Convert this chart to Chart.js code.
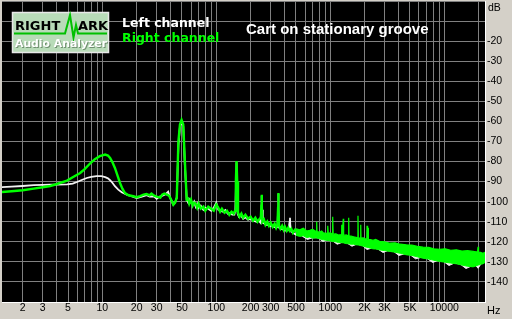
<!DOCTYPE html>
<html><head><meta charset="utf-8">
<script src="https://cdn.jsdelivr.net/npm/chart.js@4/dist/chart.umd.min.js"></script>
<style>html,body{margin:0;padding:0;background:#d4d0c8;overflow:hidden}#wrap{width:512px;height:319px;position:relative}</style>
</head><body><div id="wrap"><canvas id="c" width="512" height="319"></canvas></div>
<script>
// ---- data ----
const titleText = 'Cart on stationary groove';
const seriesNames = ['Left channel', 'Right channel'];

const leftFreq = [1.3,1.6,2.0,2.5,3.0,3.5,4.0,4.9,5.5,6.0,
6.6,7.3,8.0,8.9,9.8,10.6,11.2,11.7,12.3,12.9,
13.8,14.8,16.4,18.0,20.0,21.5,23,24.5,26,28,
29,30,31.5,33,34.5,36,37.8,39,40.6,42,
43.5,45,46.5,48,49.6,51.3,53,55,56.7,58,
60,62,64,66,68,70,73,77,80,85,
90,95,100,104,108,115,120,126,132,138,
144,147,149,150.5,152,154,158,165,172,180,
190,200,212,225,236,244,248,250,252,256,
265,275,285,298,310,320,335,345,348,350,
352,356,370,390,410,430,440,443,446,455,
470,500];
const leftDb = [-92.8,-92.5,-92.2,-91.8,-91.6,-91.5,-91.5,-91.4,-91.0,-90.2,
-89.2,-88.2,-87.7,-87.3,-87.3,-87.8,-88.4,-89.3,-90.7,-92.3,
-94.0,-95.3,-96.5,-97.3,-98.2,-97.8,-97.3,-96.8,-97.5,-97.3,
-97.8,-98.6,-97.6,-97.2,-96.8,-96.2,-95.0,-97.5,-99.8,-101.5,
-100.5,-98,-72,-62.5,-60,-62.5,-82,-99,-100.5,-99,
-100.5,-101.5,-100,-102.5,-101,-103,-102,-104,-103,-103.5,
-104.5,-103,-100.5,-104,-104.5,-105,-104.2,-106,-105.5,-106.5,
-106.5,-104,-90,-80.5,-92,-106,-107.5,-107,-108.5,-107.8,
-109,-108.5,-109.5,-110,-109.5,-110.5,-104,-97,-104,-110.5,
-111,-111.5,-111.5,-112,-112,-112.5,-113,-112.5,-104,-96,
-104,-113,-113.5,-114,-114.5,-114,-110,-108,-112,-115,
-115.5,-116.5];

const leftHfFreq = [500,560,630,700,780,860,950,1050,1150,1280,
1400,1550,1700,1900,2100,2350,2600,2900,3200,3600,
4000,4500,5000,5600,6300,7000,7900,8800,9800,11000,
12300,13800,15500,17300,18800,19800,21000,23300];
const leftHfUpper = [-114.5,-115.0,-115.2,-115.2,-116.0,-116.5,-116.8,-117.0,-117.2,-117.5,
-117.8,-118.2,-118.8,-119.0,-119.5,-120.0,-120.5,-121.0,-121.5,-122.0,
-122.3,-122.6,-123.0,-123.3,-123.8,-124.0,-124.5,-125.0,-125.0,-125.3,
-125.5,-125.8,-126.0,-126.0,-126.2,-126.0,-126.5,-126.5];
const leftHfLower = [-116.5,-117.0,-118.8,-118.0,-118.0,-119.8,-119.0,-119.6,-121.2,-120.2,
-120.6,-122.2,-121.2,-121.7,-123.8,-123.0,-123.5,-125.3,-124.4,-124.8,
-126.8,-126.0,-126.4,-128.5,-127.7,-128.1,-130.3,-129.3,-129.7,-131.8,
-130.6,-131.1,-133.3,-132.1,-131.7,-133.2,-131.0,-129.7];

const rightFreq = [1.3,1.6,2.0,2.5,3.0,3.5,4.0,4.9,5.5,6.4,
7.0,7.8,8.6,9.5,10.6,11.2,11.7,12.3,12.9,13.6,
14.3,15.0,15.8,17.0,18.7,20,21.5,23,24.5,26,
27,28.5,30,32.3,33.5,35,36.8,38.5,40.6,42,
43.5,45,46.5,48,49.6,51.3,53,55,56.7,58,
60,62,64,66,68,70,73,77,80,85,
90,95,100,104,108,112,118,124,130,136,
142,146,148.5,150.5,152.5,155,160,166,172,180,
190,200,210,220,230,240,246,248.5,250,251.5,
254,262,270,280,290,300,312,325,335,344,
348.5,350,351.5,355,365,378,390,400,415,428,
440,455,470,490,520];
const rightDb = [-95.2,-94.8,-94.3,-93.5,-92.8,-92.2,-91.2,-89.5,-87.8,-85.7,
-83.8,-81,-78.8,-77.3,-76.5,-77,-78.2,-80.5,-83.2,-87,
-90.7,-93.5,-95.7,-96.8,-97.3,-97.8,-97.2,-96.5,-96.2,-96.8,
-96,-97,-97.5,-98,-96.5,-96,-96.5,-97,-99.5,-101.5,
-100.5,-98,-70,-61.5,-59.3,-61.5,-80,-99,-98.5,-101,
-99,-102,-100.5,-101,-103,-101,-103.5,-102.5,-104.5,-102.5,
-103.5,-104.5,-101.5,-103,-105,-103.5,-105.5,-104.5,-106.5,-105,
-106,-104.5,-90,-79.8,-90,-105.5,-107.5,-106,-108,-106.5,
-108.5,-107.5,-109.5,-108,-110,-108.5,-108,-102,-96.5,-102,
-110,-109,-111.5,-110,-112,-110.5,-112.5,-111,-113,-111.5,
-103,-95.7,-103,-112,-113.5,-112,-114,-112.5,-114.5,-113,
-114.5,-113.5,-115.5,-114,-115.5];

const rightHfFreq = [500,540,580,620,660,700,745,755,760,765,
800,840,870,940,950,960,1000,1040,1050,1060,
1120,1180,1250,1260,1270,1290,1300,1310,1380,1440,
1450,1460,1520,1600,1680,1740,1750,1760,1840,1850,
1860,1950,2050,2090,2100,2110,2140,2150,2160,2250,
2370,2500,2700,3000,3330,3700,4100,4650,5200,5800,
6500,7300,8100,9100,10200,11400,12800,14300,16000,17900,
19000,19600,19800,20000,20800,21800,23300];
const rightHfUpper = [-113.5,-114.0,-113.2,-114.6,-114.3,-113.8,-114.8,-114.8,-110.0,-114.9,
-115.2,-114.6,-115.6,-115.8,-112.0,-115.9,-115.5,-116.2,-107.5,-116.2,
-116.0,-116.6,-116.4,-111.5,-116.5,-116.5,-108.5,-116.8,-116.6,-117.0,
-108.0,-117.0,-117.2,-117.5,-117.8,-118.0,-107.0,-118.0,-118.1,-111.5,
-118.1,-118.0,-118.6,-118.6,-112.0,-118.7,-118.7,-113.0,-118.8,-118.9,
-119.3,-118.8,-119.8,-120.0,-120.7,-120.5,-121.2,-121.5,-121.6,-122.3,
-122.7,-122.8,-123.5,-123.7,-123.5,-124.2,-124.0,-124.6,-124.4,-124.8,
-125.0,-125.0,-122.5,-125.1,-125.3,-125.7,-125.0];
const rightHfLower = [-116.8,-117.3,-117.0,-117.9,-117.6,-118.2,-118.0,-118.0,-118.0,-118.2,
-118.4,-118.9,-119.0,-119.3,-119.3,-119.4,-119.6,-119.9,-119.9,-119.9,
-120.0,-120.4,-120.4,-120.5,-120.5,-120.5,-120.5,-120.6,-120.9,-121.0,
-121.0,-121.0,-121.2,-121.2,-121.5,-121.6,-121.6,-121.6,-121.8,-121.9,
-121.9,-122.2,-122.6,-122.7,-122.7,-122.7,-122.8,-122.8,-122.8,-123.2,
-123.5,-123.6,-124.0,-124.4,-124.8,-125.2,-125.7,-126.5,-126.8,-127.5,
-128.2,-128.6,-129.2,-129.8,-130.2,-130.6,-131.0,-131.6,-132.2,-132.5,
-132.0,-131.8,-131.6,-131.5,-131.2,-131.0,-130.0];

const xGridValues = [2,3,4,5,6,7,8,9,10,20,30,40,50,60,70,80,90,100,200,300,400,500,600,700,800,900,1000,2000,3000,4000,5000,6000,7000,8000,9000,10000,20000];
const xLabelValues = [2,3,5,10,20,30,50,100,200,300,500,1000,2000,3000,5000,10000];
const xLabelTexts = ['2','3','5','10','20','30','50','100','200','300','500','1000','2K','3K','5K','10000'];
const yGridValues = [0,-10,-20,-30,-40,-50,-60,-70,-80,-90,-100,-110,-120,-130,-140,-150];
const yLabelValues = [-20,-30,-40,-50,-60,-70,-80,-90,-100,-110,-120,-130,-140];
const xMin = 1.318, xMax = 23230, yMin = -150, yMax = 0;

// ---- chart ----
const pts = (f, v) => f.map((x, i) => ({x: x, y: v[i]}));
const WHITE = '#f2f2f2', GREEN = '#00ff00';

const deco = {
  id: 'deco',
  beforeDraw(chart) {
    const c = chart.ctx, a = chart.chartArea;
    c.save();
    c.fillStyle = '#d4d0c8';
    c.fillRect(0, 0, chart.width, chart.height);
    c.fillStyle = '#000000';
    c.fillRect(a.left, a.top, a.right - a.left, a.bottom - a.top);
    c.restore();
  },
  afterDraw(chart) {
    const c = chart.ctx, a = chart.chartArea;
    c.save();
    c.fillStyle = '#ffffff';
    c.fillRect(a.right - 1, a.top, 1, a.bottom - a.top + 1);
    c.fillRect(a.left, a.bottom, a.right - a.left, 1);
    // logo
    c.fillStyle = '#b8dbb8';
    c.fillRect(12, 12, 97, 41);
    c.strokeStyle = '#e8e8e8';
    c.lineWidth = 1.5;
    c.strokeRect(12.5, 12.5, 96, 40);
    c.strokeStyle = '#00c000';
    c.lineWidth = 2;
    c.beginPath();
    c.moveTo(14, 33.5); c.lineTo(65, 33.5); c.lineTo(70, 15); c.lineTo(73.5, 37.5);
    c.lineTo(76, 25); c.lineTo(78, 33.5); c.lineTo(107, 33.5);
    c.stroke();
    c.fillStyle = '#000000';
    c.font = 'bold 13px "DejaVu Sans"';
    c.textBaseline = 'alphabetic';
    c.textAlign = 'left';
    c.fillText('RIGHT', 15, 30, 47);
    c.fillText('ARK', 78, 30, 30);
    c.font = 'bold 11px "DejaVu Sans"';
    c.fillStyle = '#6f8f6f';
    c.fillText('Audio Analyzer', 16, 48, 92);
    c.fillStyle = '#ffffff';
    c.fillText('Audio Analyzer', 15, 47, 92);
    // legend
    c.font = 'bold 12.5px "DejaVu Sans"';
    c.fillStyle = '#ffffff';
    c.fillText(seriesNames[0], 122, 27);
    c.fillStyle = GREEN;
    c.fillText(seriesNames[1], 122, 42);
    // title
    c.font = 'bold 15px "Liberation Sans"';
    c.fillStyle = '#ffffff';
    c.fillText(titleText, 246, 34);
    // units
    c.fillStyle = '#000000';
    c.font = '10.5px "Liberation Sans"';
    c.fillText('dB', 488, 11);
    c.font = '11px "Liberation Sans"';
    c.fillText('Hz', 487, 314);
    c.restore();
  }
};

new Chart(document.getElementById('c'), {
  type: 'line',
  data: {
    datasets: [
      {label: seriesNames[0], data: pts(leftFreq, leftDb), borderColor: WHITE, borderWidth: 1.8, pointRadius: 0, fill: false, tension: 0, order: 5},
      {label: 'L hf top', data: pts(leftHfFreq, leftHfUpper), borderColor: WHITE, borderWidth: 1, pointRadius: 0, fill: false, tension: 0, order: 4},
      {label: 'L hf bottom', data: pts(leftHfFreq, leftHfLower), borderColor: WHITE, borderWidth: 1, pointRadius: 0, fill: '-1', backgroundColor: WHITE, tension: 0, order: 4},
      {label: seriesNames[1], data: pts(rightFreq, rightDb), borderColor: GREEN, borderWidth: 2.4, pointRadius: 0, fill: false, tension: 0, order: 1},
      {label: 'R hf top', data: pts(rightHfFreq, rightHfUpper), borderColor: GREEN, borderWidth: 1.2, pointRadius: 0, fill: false, tension: 0, order: 2},
      {label: 'R hf bottom', data: pts(rightHfFreq, rightHfLower), borderColor: GREEN, borderWidth: 1, pointRadius: 0, fill: '-1', backgroundColor: GREEN, tension: 0, order: 2}
    ]
  },
  options: {
    responsive: false,
    animation: false,
    events: [],
    layout: {padding: {left: 2, top: 1, right: 0, bottom: 0}},
    plugins: {legend: {display: false}, tooltip: {enabled: false}, title: {display: false}},
    scales: {
      x: {
        type: 'logarithmic', position: 'bottom', min: xMin, max: xMax,
        afterBuildTicks: s => { s.ticks = xGridValues.map(v => ({value: v})); },
        afterFit: s => { s.height = 17; s.paddingLeft = 0; s.paddingRight = 0; },
        grid: {color: '#808080', lineWidth: 1, drawTicks: false},
        border: {display: false},
        ticks: {
          autoSkip: false, maxRotation: 0, minRotation: 0, padding: 0, color: '#000000',
          font: {family: '"Liberation Sans"', size: 10.5},
          callback: v => { const i = xLabelValues.indexOf(v); return i >= 0 ? xLabelTexts[i] : ''; }
        }
      },
      y: {
        type: 'linear', position: 'right', min: yMin, max: yMax,
        afterBuildTicks: s => { s.ticks = yGridValues.map(v => ({value: v})); },
        afterFit: s => { s.width = 26; s.paddingTop = 0; s.paddingBottom = 0; },
        grid: {color: '#808080', lineWidth: 1, drawTicks: false},
        border: {display: false},
        ticks: {
          autoSkip: false, padding: 1, color: '#000000', crossAlign: 'near',
          font: {family: '"Liberation Sans"', size: 10.5},
          callback: v => yLabelValues.indexOf(v) >= 0 ? String(v) : ''
        }
      }
    }
  },
  plugins: [deco]
});
</script>
</body></html>
